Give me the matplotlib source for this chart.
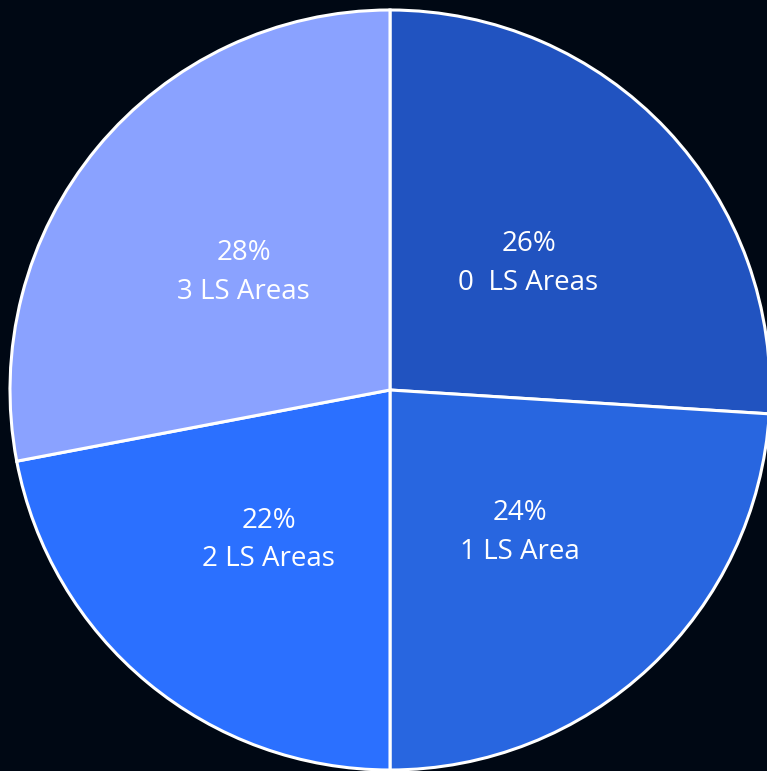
import matplotlib.pyplot as plt
import numpy as np

shares = [26, 24, 22, 28]
pct_labels = ['26%', '24%', '22%', '28%']
cat_labels = ['0  LS Areas', '1 LS Area', '2 LS Areas', '3 LS Areas']
colors = ['#2153C0', '#2866E0', '#2B70FF', '#8AA2FF']
bg = '#000814'

fig = plt.figure(figsize=(7.67, 7.71), dpi=100, facecolor=bg)
ax = fig.add_axes([0, 0, 1, 1])
ax.set_facecolor(bg)

wedges, _ = ax.pie(shares, colors=colors, startangle=90, counterclock=False,
                   radius=1.0, wedgeprops=dict(edgecolor='white', linewidth=2.2))

# place the labels at half radius, middle of each wedge
for w, p, c in zip(wedges, pct_labels, cat_labels):
    ang = np.deg2rad((w.theta1 + w.theta2) / 2)
    x, y = 0.5 * np.cos(ang), 0.5 * np.sin(ang) - 0.01
    ax.text(x, y, p + '\n' + c, ha='center', va='center', color='white',
            fontsize=20, family='Open Sans', linespacing=1.5)

ax.set_xlim(-390 / 380, (767 - 390) / 380)
ax.set_ylim(-(771 - 390) / 380, 390 / 380)
ax.set_aspect('auto')
ax.axis('off')

fig.savefig('out.png', dpi=100, facecolor=bg)
